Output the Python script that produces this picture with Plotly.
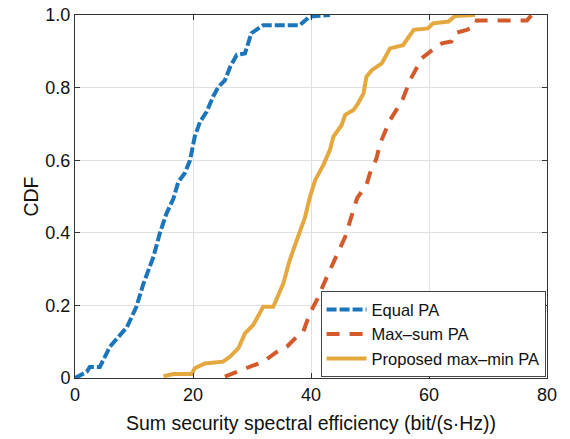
import plotly.graph_objects as go

# Equal PA CDF (traced)
eq_x = [0, 2, 2.5, 4.2, 5.9, 8.8, 10.4, 11.6, 13.3, 14.4, 15.5, 16.7, 17.5, 18.6, 19.5, 20.3,
        21.2, 22.3, 23.4, 24.3, 25.4, 26.3, 27.4, 28.8, 29.9, 31.9, 38.1, 39.8, 43.2]
eq_y = [0, 0.017, 0.03, 0.03, 0.086, 0.14, 0.196, 0.26, 0.334, 0.4, 0.453, 0.495, 0.54, 0.564, 0.6,
        0.665, 0.706, 0.733, 0.775, 0.802, 0.82, 0.857, 0.89, 0.894, 0.95, 0.972, 0.972, 0.996, 1.0]

# Max-sum PA CDF (traced)
ms_x = [25.4, 27.4, 30.2, 31.9, 34.2, 35.9, 37.6, 38.7, 39.8, 41, 42.7, 44.4, 45.8, 47.2, 47.8,
        49.4, 50, 51.1, 51.7, 52.8, 53.4, 54.8, 55.6, 56.8, 57.6, 58.8, 60.2, 62.2, 63.8, 64.4,
        66.4, 67.8, 68.1, 76.6, 77.4]
ms_y = [0.004, 0.017, 0.036, 0.045, 0.072, 0.086, 0.114, 0.128, 0.178, 0.215, 0.279, 0.343, 0.389,
        0.463, 0.495, 0.532, 0.564, 0.605, 0.646, 0.688, 0.711, 0.747, 0.77, 0.821, 0.844, 0.881,
        0.899, 0.922, 0.927, 0.95, 0.959, 0.968, 0.985, 0.985, 1.0]

# Proposed max-min PA CDF (traced)
mm_x = [15, 16.7, 19.8, 20.3, 22, 25.1, 26.3, 27.7, 28.8, 30.2, 31.9, 33.6, 35.3, 36.4, 37.6, 39,
        39.8, 40.7, 42.1, 43.2, 43.8, 45.2, 45.8, 47.2, 48, 48.9, 49.4, 50.3, 52, 53.4, 55.6, 57.4,
        59.8, 60.7, 63.3, 64.4, 67.8]
mm_y = [0.005, 0.011, 0.011, 0.027, 0.04, 0.045, 0.059, 0.082, 0.123, 0.146, 0.196, 0.196, 0.26,
        0.325, 0.38, 0.444, 0.497, 0.545, 0.587, 0.628, 0.665, 0.697, 0.725, 0.738, 0.757, 0.784,
        0.83, 0.848, 0.867, 0.908, 0.917, 0.959, 0.963, 0.977, 0.982, 0.997, 1.0]

x_ticks = [0, 20, 40, 60, 80]
y_ticks = [0, 0.2, 0.4, 0.6, 0.8, 1.0]
y_tick_labels = ["0", "0.2", "0.4", "0.6", "0.8", "1.0"]

fig = go.Figure()
fig.add_trace(go.Scatter(x=eq_x, y=eq_y, mode="lines", name="Equal PA",
                         line=dict(color="#1B75BB", width=4, dash="10px,3px")))
fig.add_trace(go.Scatter(x=ms_x, y=ms_y, mode="lines", name="Max\u2013sum PA",
                         line=dict(color="#D45A2C", width=4, dash="13px,10px")))
fig.add_trace(go.Scatter(x=mm_x, y=mm_y, mode="lines", name="Proposed max\u2013min PA",
                         line=dict(color="#E5A83F", width=4)))

axis_common = dict(showline=True, linecolor="#333333", linewidth=1, mirror="ticks",
                   ticks="inside", ticklen=5, tickcolor="#333333",
                   showgrid=True, gridcolor="#E0E0E0", gridwidth=1, zeroline=False,
                   tickfont=dict(family="Liberation Sans, Arial", size=18, color="#111111"))

fig.update_layout(
    width=570, height=439,
    margin=dict(l=75, r=23, t=15, b=61),
    paper_bgcolor="white", plot_bgcolor="white",
    font=dict(family="Liberation Sans, Arial", color="#111111"),
    xaxis=dict(range=[0, 80], tickvals=x_ticks, automargin=False,
               title=dict(text="Sum security spectral efficiency (bit/(s\u00b7Hz))",
                          font=dict(size=19.5), standoff=12), **axis_common),
    yaxis=dict(range=[0, 1], tickvals=y_ticks, ticktext=y_tick_labels, automargin=False,
               title=dict(text="CDF", font=dict(size=19.5), standoff=1), **axis_common),
    legend=dict(x=0.997, y=0.002, xanchor="right", yanchor="bottom",
                bgcolor="white", bordercolor="#444444", borderwidth=1,
                font=dict(size=16.5), tracegroupgap=0, itemwidth=40),
    showlegend=True,
)

fig.write_html("out.html")
